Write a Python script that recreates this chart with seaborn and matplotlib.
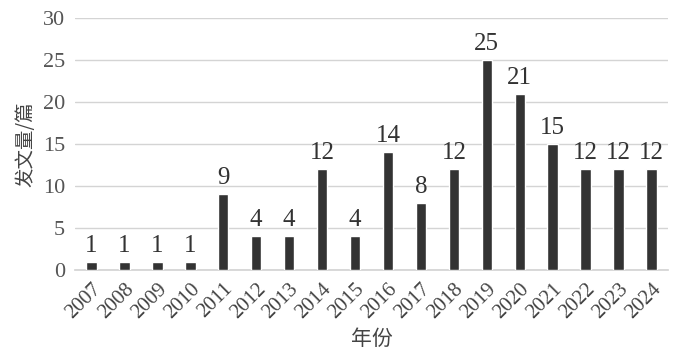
import matplotlib
matplotlib.use("Agg")
import matplotlib.pyplot as plt
import seaborn as sns
import pandas as pd

years = ["2007", "2008", "2009", "2010", "2011", "2012", "2013", "2014", "2015",
         "2016", "2017", "2018", "2019", "2020", "2021", "2022", "2023", "2024"]
counts = [1, 1, 1, 1, 9, 4, 4, 12, 4, 14, 8, 12, 25, 21, 15, 12, 12, 12]
yticks = [0, 5, 10, 15, 20, 25, 30]

sns.set_theme(style="white")
plt.rcParams['font.family'] = ['Liberation Serif', 'Noto Sans CJK SC', 'DejaVu Sans']

df = pd.DataFrame({"year": years, "count": counts})

fig = plt.figure(figsize=(6.81, 3.6), dpi=100)
ax = fig.add_axes([0.110, 0.25, 0.871, 0.70])
sns.barplot(data=df, x="year", y="count", color="#333333", width=0.32,
            saturation=1, ax=ax, zorder=3)

ax.set_ylim(0, 30)
ax.set_yticks(yticks)
ax.set_yticklabels([str(t) for t in yticks], fontsize=16, color="#555555")
ax.set_xlim(-0.5, len(years) - 0.5)
ax.grid(axis="y", color="#d4d4d4", linewidth=1, zorder=0)
for s in ["top", "right", "left"]:
    ax.spines[s].set_visible(False)
ax.spines["bottom"].set_color("#d4d4d4")
ax.tick_params(axis="both", length=0, pad=7)
ax.set_xticks(range(len(years)))
ax.set_xticklabels(years, rotation=45, ha="right", rotation_mode="anchor",
                   fontsize=15, color="#444444")

for i, v in enumerate(counts):
    ax.text(i, v + 0.6, str(v), ha="center", va="bottom", fontsize=18, color="#333333")

ax.set_xlabel("年份", fontsize=15, color="#444444",
              family=['Noto Sans CJK SC', 'DejaVu Sans'], labelpad=4)
ax.set_ylabel("发文量/篇", fontsize=14, color="#444444",
              family=['Noto Sans CJK SC', 'DejaVu Sans'], labelpad=5)

fig.savefig("out.png", dpi=100)
